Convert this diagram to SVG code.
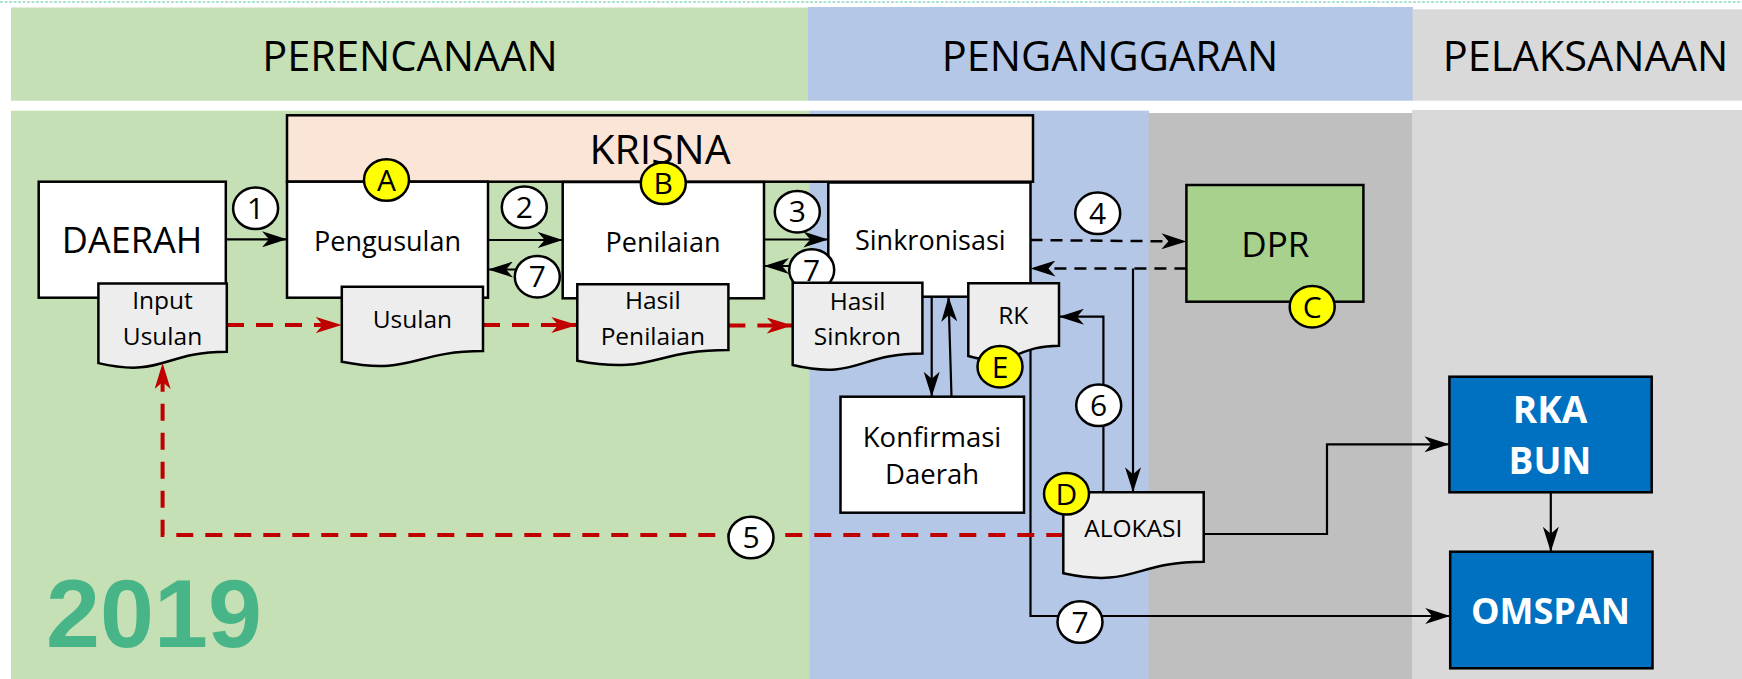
<svg xmlns="http://www.w3.org/2000/svg" width="1742" height="679" viewBox="0 0 1742 679">
<style>
.f{font-family:"Open Sans","Liberation Sans",sans-serif;text-anchor:middle;fill:#000}
.hdr{font-size:41.5px}
.bt{font-size:27px}
.dt{font-size:24.5px}
.wb{font-family:"Open Sans","Liberation Sans",sans-serif;font-weight:bold;text-anchor:middle;fill:#fff}
.box{stroke:#000;stroke-width:2.5}
.doc{fill:#EDEDED;stroke:#000;stroke-width:2.5}
.ln{fill:none;stroke:#000;stroke-width:2.2}
.dash{fill:none;stroke:#000;stroke-width:2.5;stroke-dasharray:12 8}
.red{fill:none;stroke:#C00000;stroke-width:4;stroke-dasharray:17 12}
.nc{fill:#fff;stroke:#000;stroke-width:2.5}
.lc{fill:#FFFF00;stroke:#000;stroke-width:2.5}
.num{font-family:"Open Sans","Liberation Sans",sans-serif;font-size:30px;text-anchor:middle;fill:#000}
</style>
<defs>
<marker id="ah" markerUnits="userSpaceOnUse" markerWidth="26" markerHeight="16" refX="25" refY="8" orient="auto" viewBox="0 0 26 16"><path d="M0,0 L25,8 L0,16 L7,8 Z" fill="#000"/></marker>
<marker id="ahr" markerUnits="userSpaceOnUse" markerWidth="27" markerHeight="16" refX="26" refY="8" orient="auto" viewBox="0 0 27 16"><path d="M0,0 L26,8 L0,16 L7,8 Z" fill="#C00000"/></marker>
</defs>

<!-- backgrounds -->
<g id="background">
<line x1="0" y1="2" x2="1742" y2="2" stroke="#5CC9A2" stroke-width="1.2" stroke-dasharray="3 1.5"/>
<rect x="11" y="7.5" width="797" height="93.2" fill="#C5E0B4"/>
<rect x="808" y="7" width="605" height="93.7" fill="#B4C7E7"/>
<rect x="1412.6" y="9.3" width="330" height="91.4" fill="#D9D9D9"/>
<rect x="11" y="110.7" width="799" height="569" fill="#C5E0B4"/>
<rect x="809.5" y="110.7" width="339.5" height="569" fill="#B4C7E7"/>
<rect x="1148.5" y="113" width="264" height="566" fill="#BFBFBF"/>
<rect x="1412" y="110" width="330" height="569" fill="#D9D9D9"/>
<text class="f hdr" x="410" y="70.5">PERENCANAAN</text>
<text class="f hdr" x="1110" y="70.5">PENGANGGARAN</text>
<text class="f hdr" x="1585.5" y="70.5">PELAKSANAAN</text>
<text x="154" y="646.7" font-family="'Liberation Sans',Arial,sans-serif" font-weight="bold" font-size="97" fill="#47B587" text-anchor="middle">2019</text>
</g>

<g id="krisna">
<rect class="box" x="287" y="115.3" width="746" height="66.4" fill="#FBE5D6"/>
<text class="f" x="660" y="164" font-size="41">KRISNA</text>
</g>

<g id="daerah">
<rect class="box" x="38.7" y="181.7" width="187.1" height="116" fill="#fff"/>
<text class="f" x="132" y="253.3" font-size="36">DAERAH</text>
</g>
<g id="pengusulan">
<rect class="box" x="287" y="181.7" width="201" height="116" fill="#fff"/>
<text class="f bt" x="387.5" y="250.7">Pengusulan</text>
</g>
<g id="penilaian">
<rect class="box" x="562.7" y="182" width="201.3" height="116.3" fill="#fff"/>
<text class="f bt" x="663" y="251.5">Penilaian</text>
</g>
<g id="sinkronisasi">
<rect class="box" x="828.3" y="182.5" width="202.2" height="114.2" fill="#fff"/>
<text class="f bt" x="930.3" y="250">Sinkronisasi</text>
</g>
<g id="konfirmasi">
<rect class="box" x="840.5" y="396.7" width="183.5" height="116" fill="#fff"/>
<text class="f" x="932" y="446.7" font-size="27.5">Konfirmasi</text>
<text class="f" x="932" y="484.3" font-size="27.5">Daerah</text>
</g>
<g id="dpr">
<rect class="box" x="1186.4" y="185" width="177" height="116.7" fill="#A9D18E"/>
<text class="f" x="1275.3" y="257.3" font-size="35">DPR</text>
</g>
<g id="rkabun">
<rect class="box" x="1449.4" y="376.7" width="202.3" height="115.6" fill="#0070C0"/>
<text class="wb" x="1550" y="423.3" font-size="37">RKA</text>
<text class="wb" x="1550" y="474" font-size="37">BUN</text>
</g>
<g id="omspan">
<rect class="box" x="1450.2" y="551.7" width="202.3" height="116.6" fill="#0070C0"/>
<text class="wb" x="1550.5" y="624" font-size="36">OMSPAN</text>
</g>

<g id="connectors">
<line class="ln" x1="225.8" y1="239.3" x2="287" y2="239.3" marker-end="url(#ah)"/>
<line class="ln" x1="488" y1="240" x2="562.7" y2="240" marker-end="url(#ah)"/>
<line class="ln" x1="764" y1="239.5" x2="828.3" y2="239.5" marker-end="url(#ah)"/>
<line class="ln" x1="537" y1="269.5" x2="488" y2="269.5" marker-end="url(#ah)"/>
<line class="ln" x1="811" y1="266" x2="764" y2="266" marker-end="url(#ah)"/>
<line class="dash" x1="1030.5" y1="240" x2="1186.4" y2="241.5" marker-end="url(#ah)"/>
<line class="dash" x1="1186.4" y1="268.5" x2="1030.5" y2="268.5" marker-end="url(#ah)"/>
<line class="ln" x1="1133" y1="268.5" x2="1133" y2="492.3" marker-end="url(#ah)"/>
<polyline class="ln" points="1103.4,492.3 1103.4,316.7 1059,316.7" marker-end="url(#ah)"/>
<line class="ln" x1="931.7" y1="296.7" x2="931.7" y2="396.7" marker-end="url(#ah)"/>
<line class="ln" x1="951.5" y1="396.7" x2="948.5" y2="296.7" marker-end="url(#ah)"/>
<polyline class="ln" points="1030.5,296.7 1030.5,616 1450.2,616" marker-end="url(#ah)"/>
<polyline class="ln" points="1203.7,534 1327,534 1327,444.3 1449.4,444.3" marker-end="url(#ah)"/>
<line class="ln" x1="1550.8" y1="492.3" x2="1550.8" y2="551.7" marker-end="url(#ah)"/>
<line class="red" x1="227" y1="325" x2="341.8" y2="325" marker-end="url(#ahr)"/>
<line class="red" x1="483" y1="325" x2="577.3" y2="325" marker-end="url(#ahr)"/>
<line class="red" x1="728.4" y1="325.5" x2="792.7" y2="325.5" marker-end="url(#ahr)"/>
<polyline class="red" points="1063.3,535 162.6,535 162.6,363.1" marker-end="url(#ahr)"/>
</g>

<g id="num-labels">
<ellipse class="nc" cx="255.6" cy="208.3" rx="22.5" ry="20.8"/><text class="num" x="255.6" y="219">1</text>
<ellipse class="nc" cx="524.3" cy="207.3" rx="22.5" ry="20.8"/><text class="num" x="524.3" y="218">2</text>
<ellipse class="nc" cx="797.3" cy="211.7" rx="22.5" ry="20.8"/><text class="num" x="797.3" y="222.4">3</text>
<ellipse class="nc" cx="1097.7" cy="213.3" rx="22.5" ry="20.8"/><text class="num" x="1097.7" y="224">4</text>
<ellipse class="nc" cx="751" cy="537.5" rx="22.5" ry="20.8"/><text class="num" x="751" y="548.2">5</text>
<ellipse class="nc" cx="1098.7" cy="405.3" rx="22.5" ry="20.8"/><text class="num" x="1098.7" y="416">6</text>
<ellipse class="nc" cx="537.3" cy="276.7" rx="22.5" ry="20.8"/><text class="num" x="537.3" y="287.4">7</text>
<ellipse class="nc" cx="811.7" cy="270" rx="22.5" ry="20.8"/><text class="num" x="811.7" y="280.7">7</text>
<ellipse class="nc" cx="1080" cy="622" rx="22.5" ry="20.8"/><text class="num" x="1080" y="632.7">7</text>
</g>

<g id="doc-input-usulan">
<path class="doc" d="M98.4,283.5 H226.8 V351.8 C162.6,351.8 162.6,377.9 98.4,363.1 Z"/>
<text class="f dt" x="162.5" y="309.3">Input</text>
<text class="f dt" x="162.5" y="345">Usulan</text>
</g>
<g id="doc-usulan">
<path class="doc" d="M341.8,286.7 H483 V351.1 C412.4,351.1 412.4,375.6 341.8,361.7 Z"/>
<text class="f dt" x="412.4" y="328.3">Usulan</text>
</g>
<g id="doc-hasil-penilaian">
<path class="doc" d="M577.3,284.3 H728.4 V349.9 C652.85,349.9 652.85,374.9 577.3,360.7 Z"/>
<text class="f dt" x="652.8" y="309.3">Hasil</text>
<text class="f dt" x="652.8" y="345">Penilaian</text>
</g>
<g id="doc-hasil-sinkron">
<path class="doc" d="M792.7,282.7 H922.4 V353.4 C857.55,353.4 857.55,380.3 792.7,365 Z"/>
<text class="f dt" x="857.5" y="310">Hasil</text>
<text class="f dt" x="857.5" y="345">Sinkron</text>
</g>
<g id="doc-rk">
<path class="doc" d="M968.3,283.3 H1059 V345.7 C1013.65,345.7 1013.65,369.5 968.3,356 Z"/>
<text class="f dt" x="1013.3" y="324">RK</text>
</g>
<g id="doc-alokasi">
<path class="doc" d="M1063.3,492.3 H1203.7 V561.8 C1133.5,561.8 1133.5,588.3 1063.3,573.3 Z"/>
<text class="f dt" x="1133.3" y="536.7">ALOKASI</text>
</g>

<g id="letter-labels">
<g id="lbl-a"><ellipse class="lc" cx="386.5" cy="180" rx="22.5" ry="20.8"/><text class="num" x="386.5" y="191" font-size="31">A</text></g>
<g id="lbl-b"><ellipse class="lc" cx="663.3" cy="183.3" rx="22.5" ry="20.8"/><text class="num" x="663.3" y="194.3" font-size="31">B</text></g>
<g id="lbl-c"><ellipse class="lc" cx="1312.2" cy="306.7" rx="22.5" ry="20.8"/><text class="num" x="1312.2" y="317.7" font-size="31">C</text></g>
<g id="lbl-d"><ellipse class="lc" cx="1066.5" cy="493.8" rx="22.5" ry="20.8"/><text class="num" x="1066.5" y="504.8" font-size="31">D</text></g>
<g id="lbl-e"><ellipse class="lc" cx="1000" cy="366.7" rx="22.5" ry="20.8"/><text class="num" x="1000" y="377.7" font-size="31">E</text></g>
</g>
</svg>
